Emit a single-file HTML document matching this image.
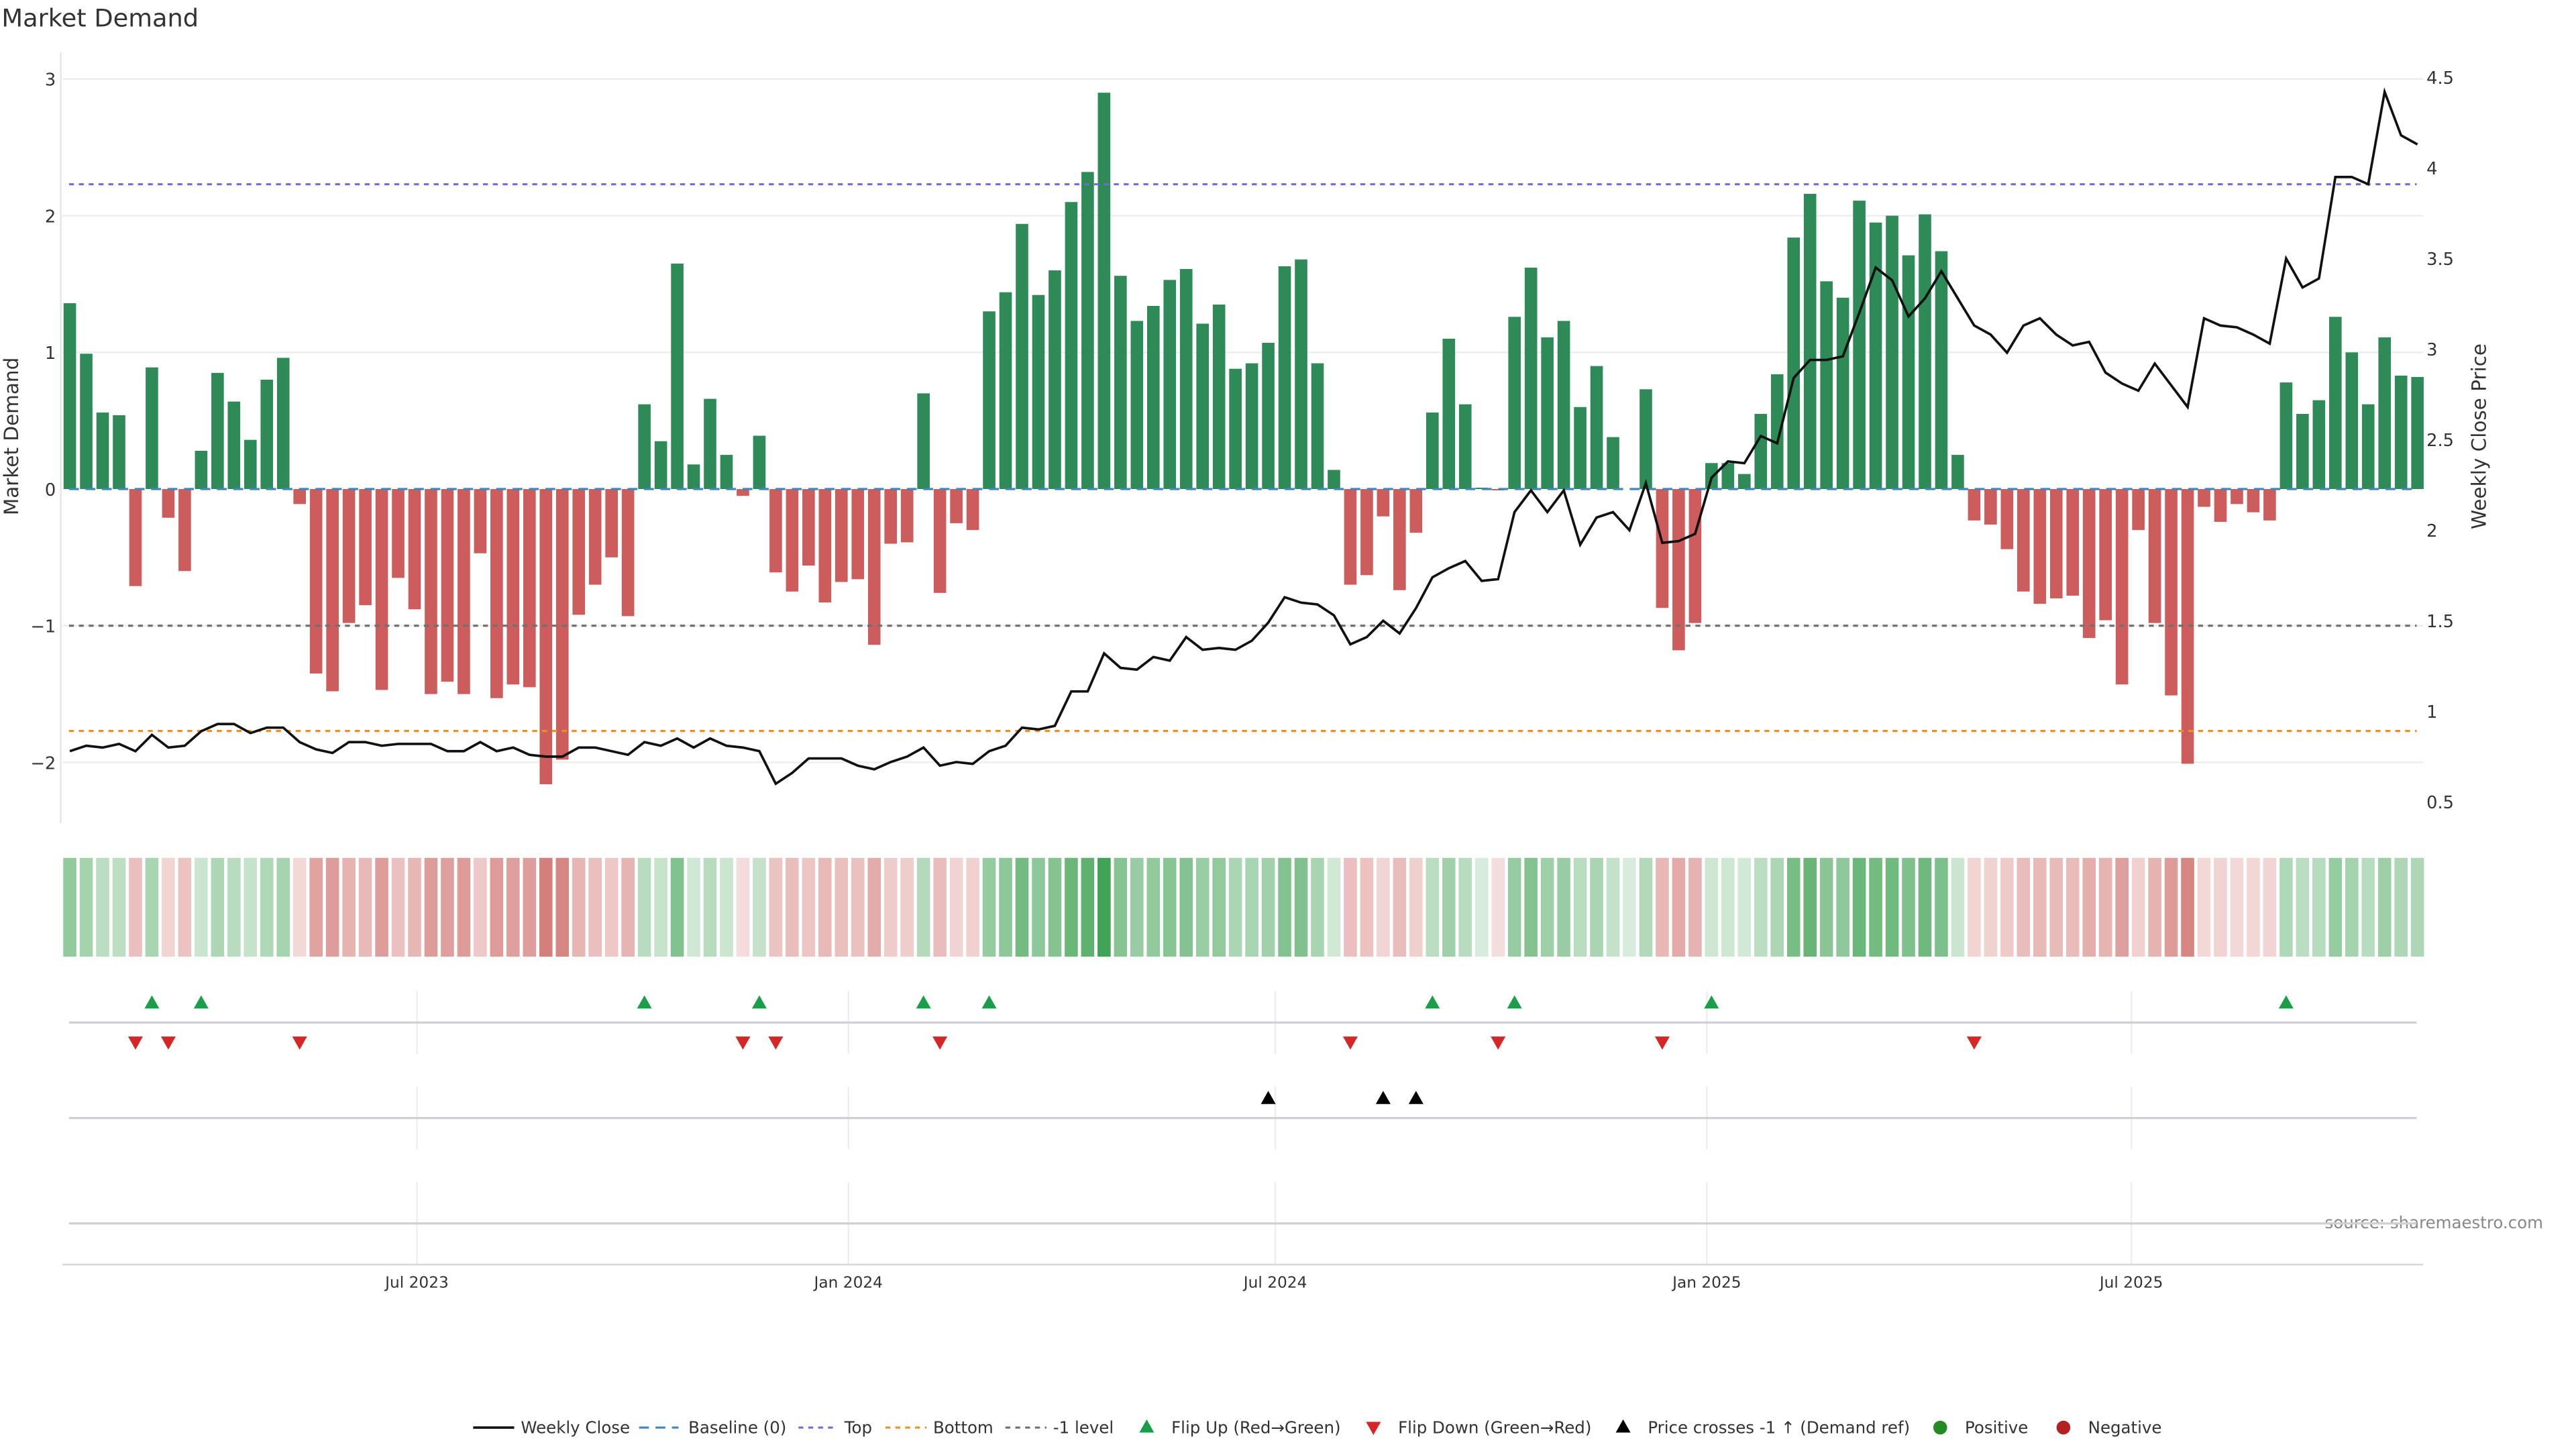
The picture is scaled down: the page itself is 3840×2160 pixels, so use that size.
<!DOCTYPE html>
<html><head><meta charset="utf-8"><title>Market Demand</title>
<style>
html,body{margin:0;padding:0;background:#fff;}
svg{display:block;font-family:"DejaVu Sans","Liberation Sans",sans-serif;}
</style></head>
<body>
<svg id="chart" width="3840" height="2160" viewBox="0 0 1568 880" preserveAspectRatio="none" xmlns="http://www.w3.org/2000/svg">
<rect x="0" y="0" width="1568" height="880" fill="#fff"/>
<text x="1" y="16" font-size="15" fill="#333">Market Demand</text>
<text x="11" y="265" font-size="12" fill="#333" text-anchor="middle" transform="rotate(-90 11 265)">Market Demand</text>
<text x="1513" y="265" font-size="12" fill="#333" text-anchor="middle" transform="rotate(-90 1513 265)">Weekly Close Price</text>
<text x="1548" y="746" font-size="10" fill="#888" text-anchor="end">source: sharemaestro.com</text>
<g id="grid"></g><g id="heat"></g><g id="bars"></g><g id="refs"></g><g id="price"></g><g id="markers"></g><g id="axes"></g><g id="legend"></g>
</svg>
<script>
const values=[1.36,0.99,0.56,0.54,-0.71,0.89,-0.21,-0.60,0.28,0.85,
0.64,0.36,0.80,0.96,-0.11,-1.35,-1.48,-0.98,-0.85,-1.47,
-0.65,-0.88,-1.50,-1.41,-1.50,-0.47,-1.53,-1.43,-1.45,-2.16,
-1.98,-0.92,-0.70,-0.50,-0.93,0.62,0.35,1.65,0.18,0.66,
0.25,-0.05,0.39,-0.61,-0.75,-0.56,-0.83,-0.68,-0.66,-1.14,
-0.40,-0.39,0.70,-0.76,-0.25,-0.30,1.30,1.44,1.94,1.42,
1.60,2.10,2.32,2.90,1.56,1.23,1.34,1.53,1.61,1.21,
1.35,0.88,0.92,1.07,1.63,1.68,0.92,0.14,-0.70,-0.63,
-0.20,-0.74,-0.32,0.56,1.10,0.62,0.01,-0.01,1.26,1.62,
1.11,1.23,0.60,0.90,0.38,0.00,0.73,-0.87,-1.18,-0.98,
0.19,0.19,0.11,0.55,0.84,1.84,2.16,1.52,1.40,2.11,
1.95,2.00,1.71,2.01,1.74,0.25,-0.23,-0.26,-0.44,-0.75,
-0.84,-0.80,-0.78,-1.09,-0.96,-1.43,-0.30,-0.98,-1.51,-2.01,
-0.13,-0.24,-0.11,-0.17,-0.23,0.78,0.55,0.65,1.26,1.00,
0.62,1.11,0.83,0.82];
const prices=[0.78,0.81,0.80,0.82,0.78,0.87,0.80,0.81,0.89,0.93,
0.93,0.88,0.91,0.91,0.83,0.79,0.77,0.83,0.83,0.81,
0.82,0.82,0.82,0.78,0.78,0.83,0.78,0.80,0.76,0.75,
0.75,0.80,0.80,0.78,0.76,0.83,0.81,0.85,0.80,0.85,
0.81,0.80,0.78,0.60,0.66,0.74,0.74,0.74,0.70,0.68,
0.72,0.75,0.80,0.70,0.72,0.71,0.78,0.81,0.91,0.90,
0.92,1.11,1.11,1.32,1.24,1.23,1.30,1.28,1.41,1.34,
1.35,1.34,1.39,1.49,1.63,1.60,1.59,1.53,1.37,1.41,
1.50,1.43,1.57,1.74,1.79,1.83,1.72,1.73,2.10,2.22,
2.10,2.22,1.92,2.07,2.10,2.00,2.26,1.93,1.94,1.98,
2.29,2.38,2.37,2.52,2.48,2.84,2.94,2.94,2.96,3.20,
3.45,3.38,3.18,3.28,3.43,3.28,3.13,3.08,2.98,3.13,
3.17,3.08,3.02,3.04,2.87,2.81,2.77,2.92,2.80,2.68,
3.17,3.13,3.12,3.08,3.03,3.50,3.34,3.39,3.95,3.95,
3.91,4.42,4.18,4.13];
const startDate="2023-02-03";
const xTickLabels=["Jul 2023","Jan 2024","Jul 2024","Jan 2025","Jul 2025"];
const xTickDates=["2023-07-01","2024-01-01","2024-07-01","2025-01-01","2025-07-01"];
const yTicks=[3,2,1,0,-1,-2];
const y2Ticks=[4.5,4,3.5,3,2.5,2,1.5,1,0.5];
const topLevel=2.23, bottomLevel=-1.77, minusLevel=-1;

const NS="http://www.w3.org/2000/svg";
const X0=42.5, STEP=9.993;
function xOf(i){return X0+i*STEP;}
function xDate(s){const d=(new Date(s)-new Date(startDate))/86400000;return X0+d/7*STEP;}
function yD(v){return 297-v*83;}
function yP(p){return 102-(p-4)*110;}
function pFromY(y){return 4-(y-102)/110;}
function mk(tag,attrs,parent){const e=document.createElementNS(NS,tag);for(const k in attrs)e.setAttribute(k,attrs[k]);document.getElementById(parent).appendChild(e);return e;}
const xL=38, xR=1475;

yTicks.forEach(v=>{
  if(v===0) return;
  const g=mk('line',{x1:xL,x2:xR,y1:yD(v),y2:yD(v),stroke:'#ededf2','stroke-width':1},'grid');
  
  
});
const sp=mk('line',{x1:37,x2:37,y1:32,y2:500,stroke:'#e6e6ea','stroke-width':1},'grid');


xTickDates.forEach(d=>{
  const x=xDate(d);
  [[602,640],[660,698],[718,768]].forEach(r=>{
    const l=mk('line',{x1:x,x2:x,y1:r[0],y2:r[1],stroke:'#eeeef2','stroke-width':1},'grid');
    
    
  });
});
[[621],[679],[743]].forEach(r=>{
  const l=mk('line',{x1:42,x2:1471,y1:r[0],y2:r[0],stroke:'#d0d0d4','stroke-width':1.3},'grid');
  
  
});
const bs=mk('line',{x1:38,x2:1475,y1:768,y2:768,stroke:'#d8d8dc','stroke-width':1},'grid');



values.forEach((v,i)=>{
  const t=0.2+0.8*Math.min(Math.abs(v)/3,1);
  const base=v>=0?[60,160,80]:[200,90,85];
  const c=base.map(b=>Math.round(255-(255-b)*t));
  const h=mk('rect',{x:xOf(i)-4,y:521,width:8,height:60,fill:'rgb('+c.join(',')+')'},'heat');
  
  
  const y0=yD(0), y1=yD(v);
  const b=mk('rect',{x:xOf(i)-3.8,y:Math.min(y0,y1),width:7.6,height:Math.max(Math.abs(y1-y0),0.01),fill:v>=0?'#2e8b57':'#cd5c5c'},'bars');
  
  
});

function ref(v,color,name,dash){
  const l=mk('line',{x1:42,x2:1471,y1:yD(v),y2:yD(v),stroke:color,'stroke-width':1.3,'stroke-dasharray':dash},'refs');
  
  
}
ref(0,'#3f86c0','baseline-zero','6,4');
ref(topLevel,'#7b68d8','top-level-line','3,3');
ref(bottomLevel,'#e8902a','bottom-level-line','3,3');
ref(minusLevel,'#707070','minus-one-level-line','3,3');

const pl=mk('polyline',{points:prices.map((p,i)=>xOf(i).toFixed(2)+','+yP(p).toFixed(2)).join(' '),fill:'none',stroke:'#111','stroke-width':1.5,'stroke-linejoin':'miter'},'price');



function tri(x,y,up,color,name){
  const pts=up?[[x,y-4.5],[x-4.5,y+3.5],[x+4.5,y+3.5]]:[[x,y+4.5],[x-4.5,y-3.5],[x+4.5,y-3.5]];
  const t=mk('polygon',{points:pts.map(p=>p.join(',')).join(' '),fill:color},'markers');
  
  
}
const levelPrice=pFromY(yD(minusLevel));
for(let i=1;i<values.length;i++){
  const a=values[i-1]>=0,b=values[i]>=0;
  if(!a&&b) tri(xOf(i),609,true,'#1a9e4a','flip-up-marker');
  if(a&&!b) tri(xOf(i),633,false,'#d62728','flip-down-marker');
  if(prices[i-1]<levelPrice&&prices[i]>=levelPrice) tri(xOf(i),667,true,'#000','price-cross-marker');
}

yTicks.forEach(v=>{
  const t=mk('text',{x:34,y:yD(v)+4,'font-size':10.5,fill:'#333','text-anchor':'end'},'axes');
  t.textContent=v<0?'\u2212'+Math.abs(v):String(v);
  
  
});
y2Ticks.forEach(v=>{
  const t=mk('text',{x:1477,y:yP(v)+4,'font-size':10.5,fill:'#333','text-anchor':'start'},'axes');
  t.textContent=String(v);
  
  
});
xTickLabels.forEach((s,k)=>{
  const t=mk('text',{x:xDate(xTickDates[k]),y:782,'font-size':9.5,fill:'#333','text-anchor':'middle'},'axes');
  t.textContent=s;
  
  
});

const LY=867;
function ltext(x,s){const t=mk('text',{x:x,y:LY+3.5,'font-size':10,fill:'#333'},'legend');t.textContent=s;}
function lline(x1,x2,color,dash,w){const l=mk('line',{x1:x1,x2:x2,y1:LY,y2:LY,stroke:color,'stroke-width':w,'stroke-dasharray':dash},'legend');}
lline(288,313,'#111','none',1.5);ltext(317,'Weekly Close');
lline(389,413,'#3f86c0','6,4',1.3);ltext(419,'Baseline (0)');
lline(486,510,'#7b68d8','3,3',1.3);ltext(514,'Top');
lline(539,564,'#e8902a','3,3',1.3);ltext(568,'Bottom');
lline(612,637,'#707070','3,3',1.3);ltext(641,'-1 level');
function ltri(x,up,color){const pts=up?[[x,LY-5],[x-4.5,LY+3],[x+4.5,LY+3]]:[[x,LY+4.5],[x-4.5,LY-3.5],[x+4.5,LY-3.5]];const t=mk('polygon',{points:pts.map(p=>p.join(',')).join(' '),fill:color},'legend');}
ltri(698,true,'#1a9e4a');ltext(713,'Flip Up (Red\u2192Green)');
ltri(836,false,'#d62728');ltext(851,'Flip Down (Green\u2192Red)');
ltri(988,true,'#000');ltext(1003,'Price crosses -1 \u2191 (Demand ref)');
function ldot(x,color){const c=mk('circle',{cx:x,cy:LY,r:4.2,fill:color},'legend');}
ldot(1181,'#228b22');ltext(1196,'Positive');
ldot(1256,'#b22222');ltext(1271,'Negative');
</script>
</body></html>
